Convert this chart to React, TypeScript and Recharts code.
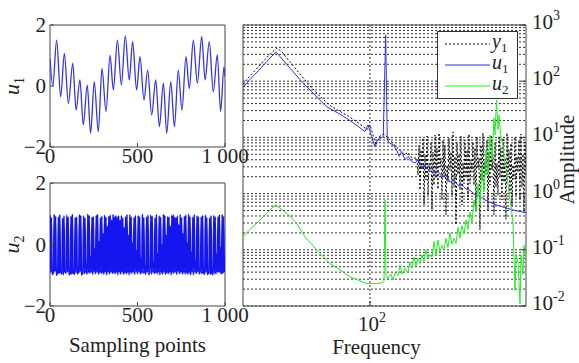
import React from 'react';
import { LineChart, Line, XAxis, YAxis, CartesianGrid, ReferenceArea, Label } from 'recharts';

const FONT = '"Liberation Serif", "Times New Roman", serif';

// time-domain panels (left)
const sampleTicks = [0, 500, 1000];
const levelTicks = [-2, 0, 2];

const u1Samples = [0, 16, 38, 61, 82, 105, 130, 149, 171, 190, 213, 232, 253, 276, 297, 320, 343, 362, 385, 408,
  430, 453, 472, 495, 514, 537, 558, 581, 604, 625, 648, 667, 690, 711, 733, 754, 777, 796, 819, 842,
  867, 886, 910, 933, 956, 975, 994, 1000];
const u1Values = [0.9, 0.0, 1.5, -0.35, 1.07, -0.57, 0.74, -0.79, 0.2, -1.28, 0.03, -1.55, 0.14, -1.5, 0.58, -0.84, 1.0, -0.13, 1.5, 0.03,
  1.64, 0.2, 1.45, -0.13, 0.96, -0.46, 0.52, -0.95, 0.2, -1.33, 0.09, -1.55, 0.14, -1.33, 0.52, -0.79, 0.96, -0.08, 1.5, 0.09,
  1.62, 0.2, 1.45, -0.19, 1.02, -0.84, 0.63, 0.3];

// u2 is read every 4 samples
const u2Step = 4;
const u2Values = [
  0.95, -0.92, 0.88, -0.97, -0.95, -0.9,
  0.98, -0.88, 0.92, -1.0, -0.96, -0.93,
  0.9, -0.95, 0.97, -0.9, -0.92, -0.96,
  0.86, -0.99, 0.93, -0.88, -0.9, -0.94,
  0.96, -0.9, 0.89, -0.98, -0.97, -0.91,
  0.92, -0.97, 0.99, -0.92, -0.94, -0.98,
  0.88, -0.93, 0.9, -0.96, -0.93, -0.9,
  0.97, -0.89, 0.94, -1.0, -0.9, -0.95,
  0.93, -0.96, 0.87, -0.91, -0.65, -0.97,
  0.99, -0.92, 0.95, -0.94, -0.4, -0.9,
  0.9, -0.98, 0.91, -0.89, -0.15, -0.96,
  0.95, -0.9, 0.98, -0.97, 0.1, -0.92,
  0.87, -0.95, 0.92, -0.93, 0.35, -0.98,
  0.96, -0.91, 0.89, -0.99, 0.6, -0.9,
  0.92, -0.97, 0.96, -0.9, 0.8, -0.95,
  0.98, -0.93, 0.9, -0.96, 0.95, -0.92,
  0.89, -0.99, 0.94, -0.91, 0.8, -0.97,
  0.95, -0.9, 0.87, -0.98, 0.55, -0.93,
  0.91, -0.96, 0.97, -0.92, 0.3, -0.99,
  0.97, -0.92, 0.9, -0.95, 0.05, -0.9,
  0.88, -0.98, 0.95, -0.89, -0.2, -0.96,
  0.94, -0.9, 0.91, -0.97, -0.45, -0.92,
  0.99, -0.95, 0.88, -0.93, -0.7, -0.98,
  0.9, -0.91, 0.96, -0.99, -0.9, -0.9,
  0.96, -0.97, 0.92, -0.9, -0.6, -0.95,
  0.87, -0.93, 0.98, -0.96, -0.3, -0.91,
  0.93, -0.99, 0.89, -0.92, 0.0, -0.97,
  0.98, -0.9, 0.95, -0.98, 0.3, -0.93,
  0.91, -0.96, 0.9, -0.91, 0.6, -0.99,
  0.95, -0.92, 0.97, -0.95, 0.9, -0.9,
  0.88, -0.98, 0.93, -0.89, 0.65, -0.96,
  0.97, -0.91, 0.88, -0.97, 0.35, -0.92,
  0.92, -0.97, 0.96, -0.93, 0.05, -0.98,
  0.99, -0.93, 0.91, -0.99, -0.25, -0.9,
  0.89, -0.99, 0.97, -0.9, -0.55, -0.95,
  0.94, -0.9, 0.9, -0.96, -0.85, -0.91,
  0.9, -0.96, 0.95, -0.92, -0.93, -0.97,
  0.96, -0.92, 0.88, -0.98, -0.9, -0.93,
  0.87, -0.98, 0.94, -0.91, -0.96, -0.99,
  0.95, -0.94, 0.9, -0.97, -0.3, -0.9,
  0.91, -0.9, 0.97, -0.93, -0.1, -0.96,
  0.98, -0.95, 0.92, -0.9,
];

// spectrum panel (right)
const freqTicks = [100];
const ampTicks = [0.01, 0.1, 1, 10, 100, 1000];
const ampDecades = [0.01, 0.1, 1, 10, 100];
const ampSteps = [1, 2, 3, 4, 5, 6, 7, 8, 9];

const y1Freq = [27, 29, 32.2, 35.7, 38.3, 40.4, 43.8, 48.6, 51.2, 53.9, 59.7, 64.9, 73.4, 81.4, 90.2, 97, 100, 103.2, 106.4, 110.9,
  115.6, 120.4, 125.6, 130.8, 136.3, 142.1, 148.1, 154.3,
  162.4, 164.1, 165.9, 167.6, 169.3, 171.1, 172.9, 174.7, 176.5, 178.3,
  180.1, 182.0, 183.9, 185.8, 187.7, 189.6, 191.6, 193.6, 195.6, 197.6,
  199.7, 201.7, 203.8, 205.9, 208.1, 210.2, 212.4, 214.6, 216.8, 219.1,
  221.4, 223.6, 226.0, 228.3, 230.7, 233.1, 235.5, 237.9, 240.4, 242.9,
  245.4, 247.9, 250.5, 253.1, 255.7, 258.4, 261.1, 263.8, 266.5, 269.3,
  272.1, 274.9, 277.7, 280.6, 283.5, 286.5, 289.4, 292.4, 295.4, 298.5,
  301.6, 304.7, 307.8, 311.0, 314.3, 317.5, 320.8, 324.1, 327.5, 330.9,
  334.3, 337.8, 341.3, 344.8, 348.4, 352.0, 355.7, 359.4, 363.1, 366.9,
  370.7, 374.5, 378.4, 382.3, 386.3, 390.3, 394.3, 398.4, 402.6, 406.7,
  411.0, 415.2, 419.5, 423.9, 428.3, 432.7, 437.2, 441.7, 446.3, 450.9,
  455.6, 460.3, 465.1, 469.9, 474.8, 479.7, 484.7, 489.7, 494.8, 500.0];
const y1Amp = [89, 124, 194, 305, 390, 331, 220, 134, 105, 82, 54, 39, 29, 23, 17.3, 13.7, 16.7, 11, 7.3, 10.6,
  11.5, 9.8, 8.3, 6.8, 5.9, 4.9, 5.4, 4.3,
  4.3, 2.14, 7.3, 1.16, 5.97, 2.63, 9.75, 0.63, 4.9, 1.75,
  10.6, 0.94, 3.5, 2.42, 8.3, 0.51, 5.5, 1.42, 11.0, 1.9,
  6.5, 1.2, 12.0, 3.0, 4.3, 0.77, 9.0, 2.0, 7.3, 0.42,
  3.2, 1.61, 9.75, 2.6, 5.5, 0.94, 12.5, 1.3, 4.6, 0.28,
  8.3, 2.2, 5.0, 1.16, 10.6, 0.63, 3.6, 1.5, 9.0, 1.9,
  5.97, 0.77, 11.5, 1.5, 4.0, 2.4, 8.3, 1.42, 6.5, 0.5,
  10.2, 2.8, 4.3, 0.225, 7.3, 1.7, 12.0, 1.16, 3.8, 2.2,
  9.0, 0.51, 5.5, 1.42, 11.0, 2.6, 4.9, 0.42, 8.3, 1.3,
  3.5, 0.94, 10.6, 2.0, 6.5, 0.77, 9.75, 1.6, 4.3, 0.35,
  12.0, 2.14, 5.97, 1.0, 7.8, 0.6, 3.2, 1.8, 10.2, 0.9,
  4.6, 2.4, 9.0, 0.77, 11.5, 1.3, 5.0, 0.45, 8.3, 2.14];

const u1Freq = [27, 29, 32.2, 35.7, 37.9, 39.6, 43.8, 48.6, 50.1, 53.9, 59.7, 64.2, 69.7, 73.4, 79.7, 85.7, 90.2, 95, 98, 101.8,
  105.3, 107.9, 110.9, 114.7, 117.6, 119.6, 122.1, 127.2, 131.7, 135.3, 138.7, 143.6, 148.5, 153.8, 159.1, 164.7, 170.5, 176.4, 182.6, 189.1,
  195.6, 202.4, 210.2, 219.1, 228.3, 237.9, 248, 258.4, 269.3, 280.6, 295.4, 311.1, 327.5, 344.9, 363.2, 382.4, 402.6, 424, 446.4, 470, 500];
const u1Amp = [78, 107, 165, 259, 331, 273, 171, 107, 93, 70, 46, 35, 29, 26, 21, 17.3, 14.8, 12.7, 16.7, 10.3,
  6.8, 9, 9.6, 10.3, 665, 9.0, 8, 7.3, 5.9, 4.6, 5.6, 4.0, 4.6, 3.7, 3.5, 4.0, 3.0, 3.2, 2.65, 2.8,
  2.3, 2.45, 2.0, 2.1, 1.6, 1.75, 1.4, 1.45, 1.2, 1.15, 0.95, 0.9, 0.77, 0.7, 0.64, 0.6, 0.56, 0.53, 0.5, 0.48, 0.46];

const u2Freq = [27, 29, 32.2, 35.7, 37.6, 39.6, 43.8, 47, 51.2, 57.7, 66.2, 73.4, 81.4, 90.2, 97, 107.2, 114.4, 115.6, 116.8, 118,
  120.4, 124.3, 126.9, 129.5, 133.6, 136.3, 139.2, 143.6, 148.1, 151.1, 154.3, 157.5, 160.8, 164.1, 167.5, 171.1, 174.7, 178.3, 182, 185.8,
  189.7, 193.6, 197.6, 201.7, 205.9, 210.2, 214.6, 219.1, 223.6, 228.3, 233.1, 237.9, 242.9, 248, 253.1, 258.4, 263.8, 269.3, 274.9, 280.6,
  286.5, 292.4, 298.5, 304.8, 311.1, 317.6, 324.2, 331, 337.9, 344.9, 352.1, 359.4, 363.2, 368.8, 374.6, 378.4, 386.4, 394.4, 402.6, 411.1,
  419.6, 428.4, 437.3, 446.4, 451, 460.3, 470, 475, 484.8, 489.8, 500];
const u2Amp = [0.171, 0.23, 0.34, 0.51, 0.63, 0.55, 0.4, 0.295, 0.17, 0.1, 0.057, 0.044, 0.033, 0.028, 0.025, 0.025, 0.026, 0.028, 0.77, 0.035,
  0.031, 0.037, 0.029, 0.039, 0.035, 0.054, 0.037, 0.047, 0.039, 0.06, 0.047, 0.074, 0.052, 0.07, 0.057, 0.081, 0.063, 0.1, 0.07, 0.083,
  0.074, 0.14, 0.078, 0.15, 0.092, 0.12, 0.1, 0.16, 0.11, 0.2, 0.126, 0.16, 0.13, 0.25, 0.16, 0.27, 0.19, 0.34, 0.23, 0.47,
  0.31, 0.77, 0.47, 1.5, 0.63, 3.0, 1.07, 6.0, 2.14, 11, 3.96, 22, 11, 46, 13.7, 25, 10, 7.3, 3.2, 2.14,
  1.0, 0.6, 0.3, 0.019, 0.081, 0.06, 0.011, 0.081, 0.036, 0.12, 0.066];

const u1Data = u1Samples.map((n, i) => ({ n, v: u1Values[i] }));
const u2Data = u2Values.map((v, i) => ({ n: i * u2Step, v }));
const spectrum = (f: number[], a: number[]) => f.map((x, i) => ({ f: x, a: a[i] }));
const ampGrid = [...ampDecades.flatMap((d) => ampSteps.map((m) => +(m * d).toPrecision(3))), 1000];

const fmtSample = (v: number) => (v === 1000 ? '1 000' : String(v));
const fmtLevel = (v: number) => (v < 0 ? `\u2212${-v}` : String(v));

const textStyle = { fontFamily: FONT, fontSize: 21, fill: '#222' };

const SampleTick = ({ x, y, payload }: any) => (
  <g>
    <line x1={x} y1={y} x2={x} y2={y - 4} stroke="#444" />
    <text x={x} y={y + 16} textAnchor="middle" style={textStyle}>
      {fmtSample(payload.value)}
    </text>
  </g>
);

const LevelTick = ({ x, y, payload }: any) => (
  <g>
    <line x1={x} y1={y} x2={x + 4} y2={y} stroke="#444" />
    <text x={x - 4} y={y + 7} textAnchor="end" style={textStyle}>
      {fmtLevel(payload.value)}
    </text>
  </g>
);

const FreqTick = ({ x, y, payload }: any) => (
  <g>
    <line x1={x} y1={y} x2={x} y2={y - 5} stroke="#333" />
    <text x={x + 2} y={y + 25} textAnchor="middle" style={textStyle}>
      10<tspan dy={-9} fontSize={14}>{Math.round(Math.log10(payload.value))}</tspan>
    </text>
  </g>
);

const AmpTick = ({ x, y, payload }: any) => (
  <g>
    <line x1={x} y1={y} x2={x - 5} y2={y} stroke="#333" />
    <text x={x + 6} y={y + 4} style={textStyle}>
      10<tspan dy={-9} fontSize={14}>{Math.round(Math.log10(payload.value))}</tspan>
    </text>
  </g>
);

const varLabel = (sub: string) => (props: any) => {
  const vb = props.viewBox ?? { x: 0, y: 0, width: 50, height: 122 };
  const cx = vb.x + 19;
  const cy = vb.y + vb.height / 2;
  return (
    <text transform={`rotate(-90 ${cx} ${cy})`} x={cx} y={cy} textAnchor="middle" style={{ ...textStyle, fontSize: 22, fontStyle: 'italic' }}>
      u<tspan fontSize={14} dy={5} fontStyle="normal">{sub}</tspan>
    </text>
  );
};

const bottomTitle = (title: string, shift: number, down: number) => (props: any) => {
  const vb = props.viewBox ?? { x: 50, y: 148, width: 175, height: 57 };
  return (
    <text x={vb.x + vb.width / 2 + shift} y={vb.y + down} textAnchor="middle" style={textStyle}>
      {title}
    </text>
  );
};

const ampLabel = (props: any) => {
  const vb = props.viewBox ?? { x: 296, y: 25, width: 53, height: 281 };
  const cx = vb.x + 48;
  const cy = vb.y + vb.height / 2 - 6;
  return (
    <text transform={`rotate(-90 ${cx} ${cy})`} x={cx} y={cy} textAnchor="middle" style={textStyle}>
      Amplitude
    </text>
  );
};

const TimePanel = ({ data, color, width, sub, height, axisHeight, title }: any) => (
  <LineChart width={250} height={height} data={data} margin={{ top: 25, right: 25, left: 0, bottom: 0 }}>
    <XAxis dataKey="n" type="number" domain={[0, 1000]} ticks={sampleTicks} allowDataOverflow
      axisLine={false} tickLine={false} tickSize={0} tickMargin={0} tick={<SampleTick />} height={axisHeight} interval={0}>
      {title ? <Label content={bottomTitle(title, 0, 46)} /> : null}
    </XAxis>
    <YAxis type="number" domain={[-2, 2]} ticks={levelTicks} allowDataOverflow width={50}
      axisLine={false} tickLine={false} tickSize={0} tickMargin={0} tick={<LevelTick />} interval={0}>
      <Label content={varLabel(sub)} />
    </YAxis>
    <ReferenceArea x1={0} x2={1000} y1={-2} y2={2} fill="none" fillOpacity={0} stroke="#444" strokeWidth={1} />
    <Line dataKey="v" type="monotone" stroke={color} strokeWidth={width} dot={false} activeDot={false} isAnimationActive={false} />
  </LineChart>
);

const Legend = () => (
  <div style={{ position: 'absolute', left: 437, top: 31, width: 81, height: 68, border: '1px solid #333', background: '#fff', boxSizing: 'border-box' }}>
    <svg width={79} height={66} style={{ display: 'block', overflow: 'visible' }}>
      <line x1={7} y1={12} x2={52} y2={12} stroke="#000" strokeDasharray="2 2" />
      <line x1={7} y1={33} x2={52} y2={33} stroke="#3030e8" />
      <line x1={7} y1={54} x2={52} y2={54} stroke="#22ee22" />
      <text x={54} y={16} style={{ ...textStyle, fontSize: 20, fontStyle: 'italic' }}>y<tspan fontSize={13} dy={4} fontStyle="normal">1</tspan></text>
      <text x={54} y={37} style={{ ...textStyle, fontSize: 20, fontStyle: 'italic' }}>u<tspan fontSize={13} dy={4} fontStyle="normal">1</tspan></text>
      <text x={54} y={58} style={{ ...textStyle, fontSize: 20, fontStyle: 'italic' }}>u<tspan fontSize={13} dy={4} fontStyle="normal">2</tspan></text>
    </svg>
  </div>
);

export default function App() {
  return (
    <div style={{ position: 'absolute', left: 0, top: 0, width: 579, height: 363, background: '#fff', overflow: 'hidden' }}>
      <div style={{ position: 'absolute', left: 0, top: 0 }}>
        <TimePanel data={u1Data} color="#3535e5" width={1.3} sub="1" height={175} axisHeight={28} />
      </div>
      <div style={{ position: 'absolute', left: 0, top: 158 }}>
        <TimePanel data={u2Data} color="#1515f0" width={1.6} sub="2" height={205} axisHeight={57} title="Sampling points" />
      </div>
      <div style={{ position: 'absolute', left: 230, top: 0 }}>
        <LineChart width={349} height={363} margin={{ top: 25, right: 0, left: 13, bottom: 0 }}>
          <CartesianGrid horizontalValues={ampGrid} verticalValues={freqTicks} stroke="#333" strokeDasharray="2 2" fill="none" />
          <XAxis dataKey="f" type="number" scale="log" domain={[27, 500]} ticks={freqTicks} allowDataOverflow height={57}
            axisLine={false} tickLine={false} tickSize={0} tickMargin={0} tick={<FreqTick />} interval={0}>
            <Label content={bottomTitle('Frequency', -8, 48)} />
          </XAxis>
          <YAxis orientation="right" type="number" scale="log" domain={[0.01, 1000]} ticks={ampTicks} allowDataOverflow width={53}
            axisLine={false} tickLine={false} tickSize={0} tickMargin={0} tick={<AmpTick />} interval={0}>
            <Label content={ampLabel} />
          </YAxis>
          <ReferenceArea x1={27} x2={500} y1={0.01} y2={1000} fill="none" fillOpacity={0} stroke="#444" strokeWidth={1} />
          <Line data={spectrum(y1Freq, y1Amp)} dataKey="a" type="linear" stroke="#000" strokeWidth={1} strokeDasharray="2 2" dot={false} activeDot={false} isAnimationActive={false} />
          <Line data={spectrum(u1Freq, u1Amp)} dataKey="a" type="linear" stroke="#3030e8" strokeWidth={1} dot={false} activeDot={false} isAnimationActive={false} />
          <Line data={spectrum(u2Freq, u2Amp)} dataKey="a" type="linear" stroke="#22ee22" strokeWidth={1} dot={false} activeDot={false} isAnimationActive={false} />
        </LineChart>
      </div>
      <Legend />
    </div>
  );
}
